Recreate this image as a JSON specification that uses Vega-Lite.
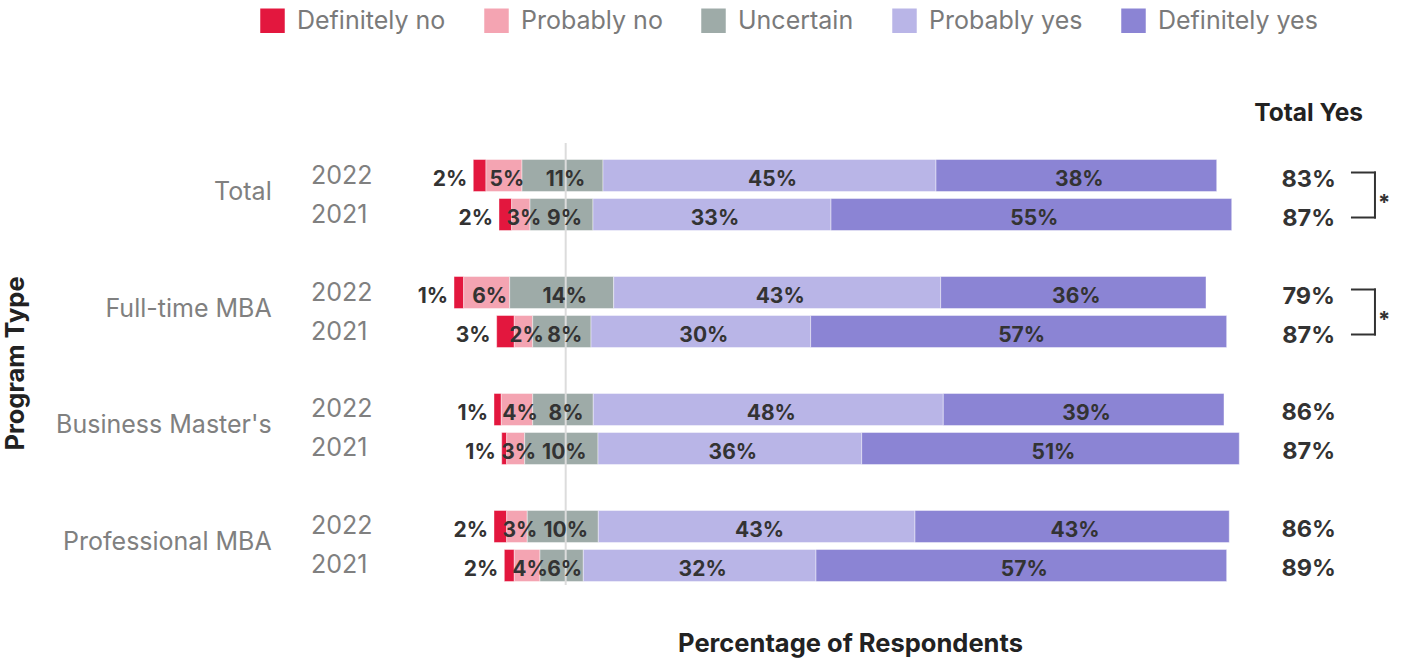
{
  "$schema": "https://vega.github.io/schema/vega-lite/v6.json",
  "width": 1100,
  "height": 429,
  "autosize": {"type": "none"},
  "padding": {"left": 300, "top": 156, "right": 1, "bottom": 74},
  "background": "white",
  "config": {"font": "Inter", "view": {"stroke": null}},
  "datasets": {
    "segs": [
      {"row": "Total 2022", "cat": "Definitely no", "start": -12.44, "end": -10.73, "label": "2%"},
      {"row": "Total 2022", "cat": "Probably no", "start": -10.73, "end": -5.88, "label": "5%"},
      {"row": "Total 2022", "cat": "Uncertain", "start": -5.88, "end": 5.02, "label": "11%"},
      {"row": "Total 2022", "cat": "Probably yes", "start": 5.02, "end": 49.84, "label": "45%"},
      {"row": "Total 2022", "cat": "Definitely yes", "start": 49.84, "end": 87.62, "label": "38%"},
      {"row": "Total 2021", "cat": "Definitely no", "start": -8.98, "end": -7.27, "label": "2%"},
      {"row": "Total 2021", "cat": "Probably no", "start": -7.27, "end": -4.80, "label": "3%"},
      {"row": "Total 2021", "cat": "Uncertain", "start": -4.80, "end": 3.67, "label": "9%"},
      {"row": "Total 2021", "cat": "Probably yes", "start": 3.67, "end": 35.71, "label": "33%"},
      {"row": "Total 2021", "cat": "Definitely yes", "start": 35.71, "end": 89.64, "label": "55%"},
      {"row": "Full-time MBA 2022", "cat": "Definitely no", "start": -15.03, "end": -13.73, "label": "1%"},
      {"row": "Full-time MBA 2022", "cat": "Probably no", "start": -13.73, "end": -7.54, "label": "6%"},
      {"row": "Full-time MBA 2022", "cat": "Uncertain", "start": -7.54, "end": 6.46, "label": "14%"},
      {"row": "Full-time MBA 2022", "cat": "Probably yes", "start": 6.46, "end": 50.47, "label": "43%"},
      {"row": "Full-time MBA 2022", "cat": "Definitely yes", "start": 50.47, "end": 86.18, "label": "36%"},
      {"row": "Full-time MBA 2021", "cat": "Definitely no", "start": -9.29, "end": -6.92, "label": "3%"},
      {"row": "Full-time MBA 2021", "cat": "Probably no", "start": -6.92, "end": -4.44, "label": "2%"},
      {"row": "Full-time MBA 2021", "cat": "Uncertain", "start": -4.44, "end": 3.41, "label": "8%"},
      {"row": "Full-time MBA 2021", "cat": "Probably yes", "start": 3.41, "end": 32.97, "label": "30%"},
      {"row": "Full-time MBA 2021", "cat": "Definitely yes", "start": 32.97, "end": 88.96, "label": "57%"},
      {"row": "Business Master's 2022", "cat": "Definitely no", "start": -9.65, "end": -8.67, "label": "1%"},
      {"row": "Business Master's 2022", "cat": "Probably no", "start": -8.67, "end": -4.44, "label": "4%"},
      {"row": "Business Master's 2022", "cat": "Uncertain", "start": -4.44, "end": 3.71, "label": "8%"},
      {"row": "Business Master's 2022", "cat": "Probably yes", "start": 3.71, "end": 50.82, "label": "48%"},
      {"row": "Business Master's 2022", "cat": "Definitely yes", "start": 50.82, "end": 88.60, "label": "39%"},
      {"row": "Business Master's 2021", "cat": "Definitely no", "start": -8.61, "end": -7.94, "label": "1%"},
      {"row": "Business Master's 2021", "cat": "Probably no", "start": -7.94, "end": -5.52, "label": "3%"},
      {"row": "Business Master's 2021", "cat": "Uncertain", "start": -5.52, "end": 4.35, "label": "10%"},
      {"row": "Business Master's 2021", "cat": "Probably yes", "start": 4.35, "end": 39.84, "label": "36%"},
      {"row": "Business Master's 2021", "cat": "Definitely yes", "start": 39.84, "end": 90.66, "label": "51%"},
      {"row": "Professional MBA 2022", "cat": "Definitely no", "start": -9.65, "end": -7.94, "label": "2%"},
      {"row": "Professional MBA 2022", "cat": "Probably no", "start": -7.94, "end": -5.17, "label": "3%"},
      {"row": "Professional MBA 2022", "cat": "Uncertain", "start": -5.17, "end": 4.39, "label": "10%"},
      {"row": "Professional MBA 2022", "cat": "Probably yes", "start": 4.39, "end": 47.01, "label": "43%"},
      {"row": "Professional MBA 2022", "cat": "Definitely yes", "start": 47.01, "end": 89.31, "label": "43%"},
      {"row": "Professional MBA 2021", "cat": "Definitely no", "start": -8.26, "end": -6.92, "label": "2%"},
      {"row": "Professional MBA 2021", "cat": "Probably no", "start": -6.92, "end": -3.46, "label": "4%"},
      {"row": "Professional MBA 2021", "cat": "Uncertain", "start": -3.46, "end": 2.37, "label": "6%"},
      {"row": "Professional MBA 2021", "cat": "Probably yes", "start": 2.37, "end": 33.69, "label": "32%"},
      {"row": "Professional MBA 2021", "cat": "Definitely yes", "start": 33.69, "end": 88.96, "label": "57%"}
    ],
    "rows": [
      {"row": "Total 2022", "program": "Total", "year": "2022", "totalYes": "83%"},
      {"row": "Total 2021", "program": "Total", "year": "2021", "totalYes": "87%"},
      {"row": "Full-time MBA 2022", "program": "Full-time MBA", "year": "2022", "totalYes": "79%"},
      {"row": "Full-time MBA 2021", "program": "Full-time MBA", "year": "2021", "totalYes": "87%"},
      {"row": "Business Master's 2022", "program": "Business Master's", "year": "2022", "totalYes": "86%"},
      {"row": "Business Master's 2021", "program": "Business Master's", "year": "2021", "totalYes": "87%"},
      {"row": "Professional MBA 2022", "program": "Professional MBA", "year": "2022", "totalYes": "86%"},
      {"row": "Professional MBA 2021", "program": "Professional MBA", "year": "2021", "totalYes": "89%"}
    ],
    "brackets": [
      {"top": "Total 2022", "bottom": "Total 2021", "mark": "*"},
      {"top": "Full-time MBA 2022", "bottom": "Full-time MBA 2021", "mark": "*"}
    ]
  },
  "layer": [
    {
      "data": {"name": "segs"},
      "mark": {"type": "bar", "stroke": "#ffffff", "strokeWidth": 0.6, "strokeOpacity": 0.7},
      "encoding": {
        "x": {
          "field": "start", "type": "quantitative",
          "scale": {"domain": [-35.76, 112.29], "nice": false, "zero": false},
          "axis": {"title": "Percentage of Respondents", "labels": false, "ticks": false, "domain": false, "grid": false,
                   "titleFontSize": 25.5, "titleFontWeight": "bold", "titleColor": "#222222", "titleFont": "Inter",
                   "titleBaseline": "alphabetic", "titleY": 66}
        },
        "x2": {"field": "end"},
        "y": {
          "field": "row", "type": "nominal",
          "scale": {"domain": ["Total 2022", "Total 2021", "gap1", "Full-time MBA 2022", "Full-time MBA 2021", "gap2", "Business Master's 2022", "Business Master's 2021", "gap3", "Professional MBA 2022", "Professional MBA 2021"],
                    "paddingInner": 0.1795, "paddingOuter": 0.09},
          "axis": {"title": "Program Type", "labels": false, "ticks": false, "domain": false, "grid": false,
                   "titleFontSize": 25.5, "titleFontWeight": "bold", "titleColor": "#222222", "titleFont": "Inter",
                   "titleAngle": 270, "titleBaseline": "alphabetic", "titleAlign": "center", "titleX": -277, "titleY": 207}
        },
        "fill": {
          "field": "cat", "type": "nominal",
          "scale": {"domain": ["Definitely no", "Probably no", "Uncertain", "Probably yes", "Definitely yes"],
                    "range": ["#E3173E", "#F4A4B2", "#9EABA8", "#B9B5E7", "#8B84D4"]},
          "legend": {"title": null, "orient": "none", "legendX": -40, "legendY": -148, "direction": "horizontal",
                     "symbolType": "square", "symbolSize": 600, "symbolOpacity": 1, "symbolStrokeWidth": 0,
                     "labelFontSize": 25, "labelColor": "#7a7a7a", "labelFont": "Inter", "labelOffset": 12,
                     "columnPadding": 38, "padding": 0, "labelLimit": 400}
        }
      }
    },
    {
      "data": {"values": [{}]},
      "mark": {"type": "rule", "color": "#dcdcdc", "strokeWidth": 2, "yOffset": -13, "y2Offset": 5},
      "encoding": {"x": {"datum": 0}}
    },
    {
      "data": {"name": "segs"},
      "transform": [
        {"filter": "datum.cat != 'Definitely no'"},
        {"fold": ["start", "end"], "as": ["k", "v"]},
        {"aggregate": [{"op": "mean", "field": "v", "as": "mid"}], "groupby": ["row", "cat", "label"]}
      ],
      "mark": {"type": "text", "fontSize": 21, "fontWeight": "bold", "color": "#333333", "baseline": "alphabetic", "dy": 10.5, "dx": 3},
      "encoding": {
        "x": {"field": "mid", "type": "quantitative"},
        "y": {"field": "row", "type": "nominal"},
        "text": {"field": "label"}
      }
    },
    {
      "data": {"name": "segs"},
      "transform": [{"filter": "datum.cat == 'Definitely no'"}],
      "mark": {"type": "text", "fontSize": 21, "fontWeight": "bold", "color": "#333333", "baseline": "alphabetic", "align": "right", "dy": 10.5, "dx": -6},
      "encoding": {
        "x": {"field": "start", "type": "quantitative"},
        "y": {"field": "row", "type": "nominal"},
        "text": {"field": "label"}
      }
    },
    {
      "data": {"name": "rows"},
      "mark": {"type": "text", "fontSize": 25, "color": "#808080", "baseline": "alphabetic", "align": "left", "dy": 8},
      "encoding": {
        "x": {"datum": -34.28},
        "y": {"field": "row", "type": "nominal"},
        "text": {"field": "year"}
      }
    },
    {
      "data": {"name": "rows"},
      "transform": [{"filter": "datum.year == '2022'"}],
      "mark": {"type": "text", "fontSize": 25, "color": "#808080", "baseline": "alphabetic", "align": "right", "dy": 24},
      "encoding": {
        "x": {"datum": -39.57},
        "y": {"field": "row", "type": "nominal"},
        "text": {"field": "program"}
      }
    },
    {
      "data": {"name": "rows"},
      "mark": {"type": "text", "fontSize": 23.5, "fontWeight": "bold", "color": "#333333", "baseline": "alphabetic", "align": "center", "dy": 11},
      "encoding": {
        "x": {"datum": 100},
        "y": {"field": "row", "type": "nominal"},
        "text": {"field": "totalYes"}
      }
    },
    {
      "data": {"values": [{"row": "Total 2022", "t": "Total Yes"}]},
      "mark": {"type": "text", "fontSize": 24.5, "fontWeight": "bold", "color": "#222222", "baseline": "alphabetic", "align": "center", "dy": -54.5},
      "encoding": {
        "x": {"datum": 100},
        "y": {"field": "row", "type": "nominal"},
        "text": {"field": "t"}
      }
    },
    {
      "data": {"name": "brackets"},
      "mark": {"type": "rule", "color": "#333333", "strokeWidth": 2, "yOffset": -3},
      "encoding": {
        "x": {"datum": 105.69},
        "x2": {"datum": 109.05},
        "y": {"field": "top", "type": "nominal"}
      }
    },
    {
      "data": {"name": "brackets"},
      "mark": {"type": "rule", "color": "#333333", "strokeWidth": 2, "yOffset": 3},
      "encoding": {
        "x": {"datum": 105.69},
        "x2": {"datum": 109.05},
        "y": {"field": "bottom", "type": "nominal"}
      }
    },
    {
      "data": {"name": "brackets"},
      "mark": {"type": "rule", "color": "#333333", "strokeWidth": 2, "yOffset": -4, "y2Offset": 4},
      "encoding": {
        "x": {"datum": 108.92},
        "y": {"field": "top", "type": "nominal"},
        "y2": {"field": "bottom"}
      }
    },
    {
      "data": {"name": "brackets"},
      "mark": {"type": "text", "fontSize": 22, "fontWeight": "bold", "color": "#333333", "baseline": "alphabetic", "align": "center", "dy": -5},
      "encoding": {
        "x": {"datum": 110.17},
        "y": {"field": "bottom", "type": "nominal"},
        "text": {"field": "mark"}
      }
    }
  ]
}
